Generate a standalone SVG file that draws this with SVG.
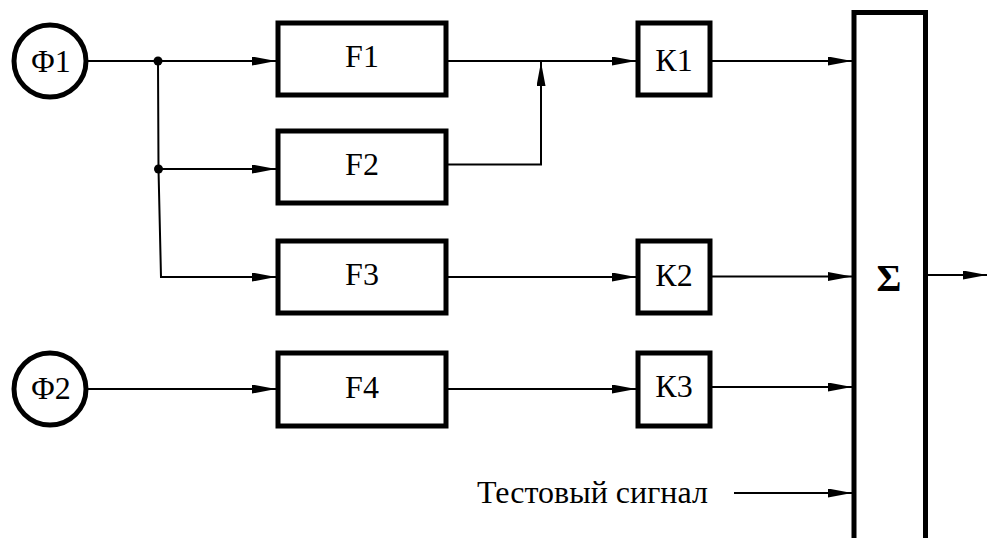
<svg xmlns="http://www.w3.org/2000/svg" width="987" height="538" viewBox="0 0 987 538">
<defs>
<marker id="ah" markerUnits="userSpaceOnUse" markerWidth="24" markerHeight="10" refX="24" refY="4.5" orient="auto">
<path d="M0,0 L24,4.5 L0,9 z" fill="#000"/>
</marker>
</defs>
<rect width="987" height="538" fill="#fff"/>
<g id="connectors" fill="none" stroke="#000" stroke-width="2">
<path marker-end="url(#ah)" d="M88,61 L276,61"/>
<path marker-end="url(#ah)" d="M158,61 L158.5,169 L276,169"/>
<path marker-end="url(#ah)" d="M158.5,169 L161,277 L276,277"/>
<path marker-end="url(#ah)" d="M88,389 L276,389"/>
<path marker-end="url(#ah)" d="M446,61 L636,61"/>
<path marker-end="url(#ah)" d="M446,164.5 L541,164.5 L541,62"/>
<path marker-end="url(#ah)" d="M446,277 L636,277"/>
<path marker-end="url(#ah)" d="M446,389 L636,389"/>
<path marker-end="url(#ah)" d="M710,61 L852,61"/>
<path marker-end="url(#ah)" d="M710,276.5 L852,276.5"/>
<path marker-end="url(#ah)" d="M710,387 L852,387"/>
<path marker-end="url(#ah)" d="M734,493 L852,493"/>
<path marker-end="url(#ah)" d="M926,275 L987,275"/>
<circle cx="158" cy="61" r="4.5" fill="#000" stroke="none"/>
<circle cx="158.5" cy="169" r="4.5" fill="#000" stroke="none"/>
</g>
<g id="phi1">
<circle cx="50" cy="61" r="36" fill="#fff" stroke="#000" stroke-width="5"/>
<text x="51" y="72" text-anchor="middle" font-family="Times New Roman" font-weight="normal" font-size="32">Φ1</text>
</g>
<g id="phi2">
<circle cx="50" cy="389" r="36" fill="#fff" stroke="#000" stroke-width="5"/>
<text x="51" y="399" text-anchor="middle" font-family="Times New Roman" font-weight="normal" font-size="32">Φ2</text>
</g>
<g id="F1">
<rect x="278" y="23" width="168" height="72" fill="#fff" stroke="#000" stroke-width="5"/>
<text x="362" y="67" text-anchor="middle" font-family="Times New Roman" font-weight="normal" font-size="32">F1</text>
</g>
<g id="F2">
<rect x="278" y="131" width="168" height="72" fill="#fff" stroke="#000" stroke-width="5"/>
<text x="362" y="175" text-anchor="middle" font-family="Times New Roman" font-weight="normal" font-size="32">F2</text>
</g>
<g id="F3">
<rect x="278" y="241" width="168" height="72" fill="#fff" stroke="#000" stroke-width="5"/>
<text x="362" y="285" text-anchor="middle" font-family="Times New Roman" font-weight="normal" font-size="32">F3</text>
</g>
<g id="F4">
<rect x="278" y="353" width="168" height="73" fill="#fff" stroke="#000" stroke-width="5"/>
<text x="362" y="398" text-anchor="middle" font-family="Times New Roman" font-weight="normal" font-size="32">F4</text>
</g>
<g id="K1">
<rect x="638" y="23" width="72" height="72" fill="#fff" stroke="#000" stroke-width="5"/>
<text x="674" y="71" text-anchor="middle" font-family="Times New Roman" font-weight="normal" font-size="32">К1</text>
</g>
<g id="K2">
<rect x="638" y="241" width="72" height="72" fill="#fff" stroke="#000" stroke-width="5"/>
<text x="674" y="286" text-anchor="middle" font-family="Times New Roman" font-weight="normal" font-size="32">К2</text>
</g>
<g id="K3">
<rect x="638" y="353" width="72" height="73" fill="#fff" stroke="#000" stroke-width="5"/>
<text x="674" y="397" text-anchor="middle" font-family="Times New Roman" font-weight="normal" font-size="32">К3</text>
</g>
<g id="sum">
<rect x="854" y="12.5" width="71.5" height="540" fill="#fff" stroke="#000" stroke-width="5"/>
<text x="889" y="291" text-anchor="middle" font-family="Liberation Serif" font-size="38" font-weight="bold">Σ</text>
</g>
<g id="test">
<text x="477" y="503" font-family="Times New Roman" font-weight="normal" font-size="32">Тестовый сигнал</text>
</g>
</svg>
